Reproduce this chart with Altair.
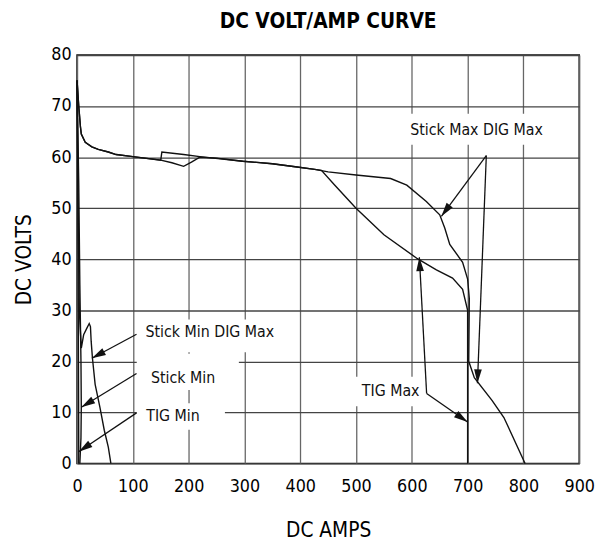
import math
import altair as alt
import pandas as pd

# ---------------- data ----------------
stick_max_amps = [0, 3, 6, 7.6, 14.7, 26.5, 38, 56, 70, 100, 150, 170, 191, 205, 220, 250, 297, 350,
                  391, 426, 450, 500, 562, 591, 626, 650, 659, 668, 691, 700, 703, 702, 712, 744, 765, 803]
stick_max_volts = [75, 70, 66, 64.5, 62.9, 62, 61.5, 61, 60.5, 60.1, 59.4, 58.9, 58.2, 59, 60, 59.8, 59.2, 58.7,
                   58.1, 57.6, 57.1, 56.5, 55.8, 54.5, 51.3, 48.7, 46.1, 42.9, 39.4, 36.1, 32.3, 20, 16.8, 12.3, 9, 0]

tig_max_amps = [0, 3, 6, 7.6, 14.7, 26.5, 38, 56, 70, 100, 150, 152, 191, 220, 297, 350, 391, 426,
                438, 462, 500, 550, 610, 644, 673, 691, 700, 700]
tig_max_volts = [75, 70, 66, 64.5, 62.9, 62, 61.5, 61, 60.5, 60.1, 59.4, 61, 60.5, 60.1, 59.2, 58.7, 58.1, 57.6,
                 57.4, 54.5, 50, 44.8, 40.1, 37.9, 36.3, 34.1, 30, 0]

stick_min_dig_amps = [0, 2, 4, 7.6, 11.8, 17.6, 21.8, 24, 25.3, 27.6, 32.4, 41, 48.8, 56, 60.6]
stick_min_dig_volts = [75, 50, 30, 22.6, 25.2, 26.5, 27.4, 26.8, 23.9, 20.6, 15.5, 11, 6.5, 3.2, 0]

stick_min_amps = [0, 3, 5, 7, 7.6, 7, 5]
stick_min_volts = [75, 55, 35, 20, 11, 5, 0]

tig_min_amps = [0, 1.5, 2.5, 3, 3]
tig_min_volts = [75, 50, 20, 3, 0]

# annotation labels
label_text = ["Stick Max DIG Max", "TIG Max", "Stick Min DIG Max", "Stick Min", "TIG Min"]
label_amps = [716, 562, 238, 190, 172]
label_volts = [65.2, 14.1, 25.8, 16.7, 9.3]
# white boxes behind labels
box_amps_lo = [588, 492, 107, 107, 107]
box_amps_hi = [838, 634, 372, 290, 265]
box_volts_lo = [62.4, 11.2, 21.8, 14.4, 6.6]
box_volts_hi = [68.5, 17.0, 28.2, 21.5, 11.8]

# arrows: origin -> tip
arrow_from_amps = [733.5, 733.5, 626.5, 626.5, 106.6, 106.6, 106.6]
arrow_from_volts = [60.3, 60.3, 13.7, 13.7, 25.3, 17.6, 9.9]
arrow_to_amps = [653, 717.6, 613.5, 700, 26.5, 7.6, 2.9]
arrow_to_volts = [48.4, 15.7, 40.4, 8.1, 20.6, 11.0, 2.3]

# ---------------- layout ----------------
W, H = 509, 414
XMAX, YMAX = 900, 80
FONT = "Liberation Sans Narrow, DejaVu Sans Condensed, Roboto, Liberation Sans, sans-serif"

series = [("Stick Max DIG Max", stick_max_amps, stick_max_volts),
          ("TIG Max", tig_max_amps, tig_max_volts),
          ("Stick Min DIG Max", stick_min_dig_amps, stick_min_dig_volts),
          ("Stick Min", stick_min_amps, stick_min_volts),
          ("TIG Min", tig_min_amps, tig_min_volts)]
rows = []
for name, a, v in series:
    for i, (aa, vv) in enumerate(zip(a, v)):
        rows.append({"series": name, "i": i, "amps": aa, "volts": vv})
curves = pd.DataFrame(rows)

boxes = pd.DataFrame({"a1": box_amps_lo, "a2": box_amps_hi, "v1": box_volts_lo, "v2": box_volts_hi})
labels = pd.DataFrame({"t": label_text, "amps": label_amps, "volts": label_volts})

ang = []
for fa, fv, ta, tv in zip(arrow_from_amps, arrow_from_volts, arrow_to_amps, arrow_to_volts):
    dx = (ta - fa) * W / XMAX
    dy = -(tv - fv) * H / YMAX
    ang.append(math.degrees(math.atan2(dx, -dy)) % 360)
arrows = pd.DataFrame({"fa": arrow_from_amps, "fv": arrow_from_volts,
                       "ta": arrow_to_amps, "tv": arrow_to_volts, "ang": ang})

xs = alt.Scale(domain=[0, XMAX], nice=False)
ys = alt.Scale(domain=[0, YMAX], nice=False)

xaxis = alt.Axis(values=list(range(0, 901, 50)),
                 labelExpr="datum.value % 100 == 0 ? datum.label : ''",
                 title="DC AMPS", ticks=False, domain=False, labelFlush=False,
                 gridColor="#666", gridWidth=1.3, gridOpacity=1,
                 labelFont=FONT, labelFontSize=18, labelColor="#000", labelPadding=14,
                 titleFont=FONT, titleFontSize=21, titleFontWeight="normal", titleColor="#000",
                 titlePadding=25)
yaxis = alt.Axis(values=list(range(0, 81, 10)), title="DC VOLTS", ticks=False, domain=False,
                 labelFlush=False,
                 gridColor="#444", gridWidth=1.3, gridOpacity=1,
                 labelFont=FONT, labelFontSize=18, labelColor="#000", labelPadding=6,
                 titleFont=FONT, titleFontSize=21, titleFontWeight="normal", titleColor="#000",
                 titlePadding=17)

base_rect = alt.Chart(boxes).mark_rect(fill="white").encode(
    x=alt.X("a1:Q", scale=xs, axis=xaxis), x2="a2:Q",
    y=alt.Y("v1:Q", scale=ys, axis=yaxis), y2="v2:Q")

lines = alt.Chart(curves).mark_line(color="#111", strokeWidth=1.4).encode(
    x=alt.X("amps:Q", scale=xs), y=alt.Y("volts:Q", scale=ys),
    detail="series:N", order="i:Q")

shafts = alt.Chart(arrows).mark_rule(color="#111", strokeWidth=1.3).encode(
    x=alt.X("fa:Q", scale=xs), y=alt.Y("fv:Q", scale=ys), x2="ta:Q", y2="tv:Q")

heads = alt.Chart(arrows).mark_point(
    shape="M0,0L0.55,2L-0.55,2Z", filled=True, color="#111", opacity=1, size=200).encode(
    x=alt.X("ta:Q", scale=xs), y=alt.Y("tv:Q", scale=ys), angle=alt.Angle("ang:Q", scale=None))

texts = alt.Chart(labels).mark_text(font=FONT, fontSize=16, color="#111", baseline="middle",
                                    align="center").encode(
    x=alt.X("amps:Q", scale=xs), y=alt.Y("volts:Q", scale=ys), text="t:N")

chart = alt.layer(base_rect, lines, shafts, heads, texts).properties(
    width=W, height=H,
    title=alt.Title("DC VOLT/AMP CURVE", font=FONT, fontSize=21, fontWeight="bold",
                    color="#000", anchor="middle", offset=14),
    autosize=alt.AutoSizeParams(type="none"),
    padding={"left": 70, "top": 44, "right": 16, "bottom": 76},
).configure_view(stroke="#111", strokeWidth=1.6)

chart.save("out.html", embed_options={"renderer": "svg", "actions": False})
